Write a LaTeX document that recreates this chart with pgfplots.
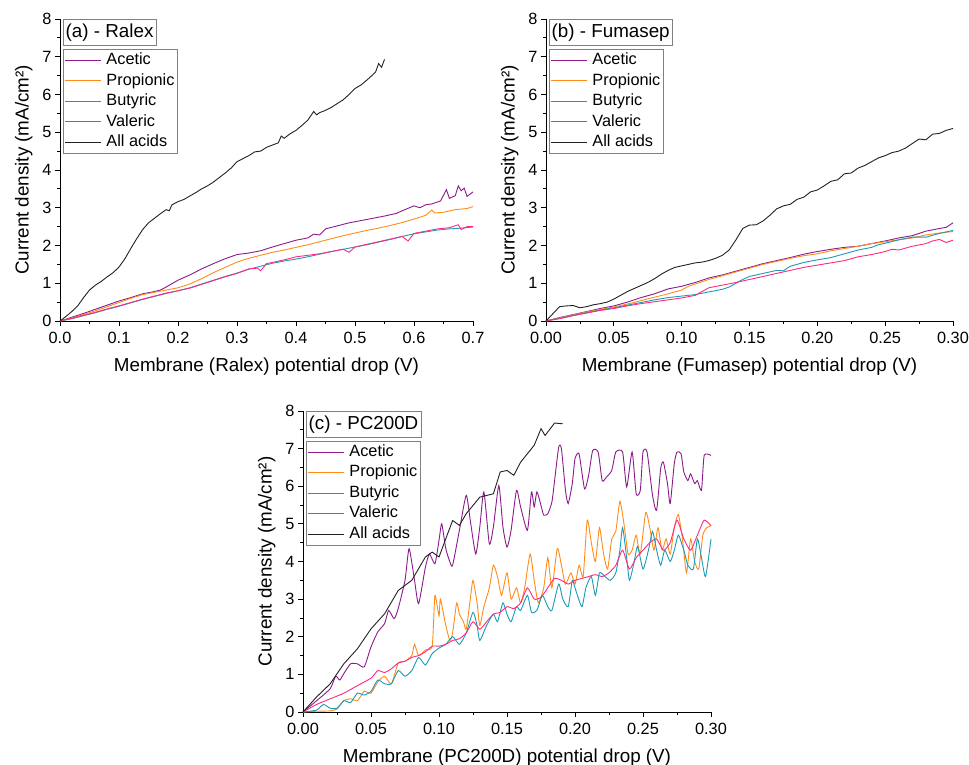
\documentclass[border=0pt]{standalone}
\usepackage{fontspec}
\setmainfont{Liberation Sans}
\usepackage{pgfplots}
\pgfplotsset{compat=1.18}
\definecolor{cAce}{HTML}{8B1A8B}
\definecolor{cPro}{HTML}{FF8C1A}
\definecolor{cBut}{HTML}{1A9BB5}
\definecolor{cVal}{HTML}{FF2A7F}
\definecolor{cAll}{HTML}{222222}
\newcommand{\fsT}{\fontsize{16.3}{19}\selectfont}
\newcommand{\fsL}{\fontsize{18.8}{22}\selectfont}
\tikzset{
  ttl/.style={draw=gray, line width=0.6pt, anchor=north west, font=\fontsize{18.8}{22}\selectfont,
    inner xsep=2.5pt, inner ysep=4.3pt, text height=13.5pt, text depth=4pt},
}
\pgfplotsset{
  panel/.style={
    scale only axis,
    axis x line*=bottom, axis y line*=left,
    axis line style={-, line width=0.8pt},
    tick align=outside,
    major tick length=5pt, minor tick length=3pt,
    every tick/.style={black, line width=0.8pt},
    minor x tick num=1, minor y tick num=1,
    ymin=0, ymax=8, ytick={0,1,2,3,4,5,6,7,8},
    /pgf/number format/assume math mode=true,
    ticklabel style={font=\fsT},
    xticklabel shift=3pt,
    label style={font=\fsL},
    xlabel shift=7pt, ylabel shift=3pt,
    ylabel={Current density (mA/cm²)},
    clip=false,
    legend cell align=left,
    legend style={draw=gray, line width=0.6pt, font=\fsT, anchor=north west,
      inner xsep=1pt, inner ysep=0.5pt, column sep=3pt,
      nodes={text height=12.5pt, text depth=4pt, inner sep=2pt}},
    legend image code/.code={\draw[#1, line width=1.3pt] (0pt,0pt) -- (36pt,0pt);},
    every axis plot/.append style={line width=0.9pt},
  },
  sm/.style={smooth, tension=0.35},
}
\begin{document}
\begin{tikzpicture}
\useasboundingbox (0,0) rectangle (969pt,765pt);
% ---------------- (a)
\begin{axis}[panel, at={(60pt,444pt)}, anchor=south west, width=413pt, height=302pt,
  xmin=0, xmax=0.7, xtick={0,0.1,0.2,0.3,0.4,0.5,0.6,0.7},
  xticklabel style={/pgf/number format/.cd, fixed, fixed zerofill, precision=1},
  xlabel={Membrane (Ralex) potential drop (V)},
  legend style={at={(axis description cs:0.007,0.90)}}]
\addplot[cAce] coordinates {(0,0) (0.02,0.10) (0.04,0.20) (0.06,0.31) (0.08,0.42) (0.10,0.53) (0.12,0.62) (0.14,0.72) (0.16,0.78) (0.17,0.82) (0.18,0.90) (0.20,1.08) (0.22,1.22) (0.24,1.38) (0.26,1.52) (0.28,1.65) (0.30,1.76) (0.32,1.80) (0.34,1.86) (0.36,1.96) (0.38,2.05) (0.40,2.14) (0.42,2.20) (0.43,2.30) (0.44,2.28) (0.45,2.44) (0.47,2.52) (0.49,2.60) (0.51,2.66) (0.53,2.72) (0.55,2.78) (0.57,2.85) (0.58,2.92) (0.60,3.05) (0.61,3.00) (0.62,3.08) (0.63,3.10) (0.645,3.18) (0.655,3.48) (0.66,3.25) (0.67,3.32) (0.675,3.58) (0.68,3.45) (0.685,3.52) (0.69,3.30) (0.70,3.42)};
\addlegendentry{Acetic}
\addplot[cPro] coordinates {(0,0) (0.02,0.08) (0.04,0.17) (0.06,0.27) (0.08,0.38) (0.10,0.49) (0.12,0.60) (0.14,0.70) (0.16,0.76) (0.18,0.82) (0.20,0.88) (0.22,0.98) (0.24,1.12) (0.26,1.28) (0.28,1.42) (0.30,1.56) (0.32,1.66) (0.34,1.74) (0.36,1.82) (0.38,1.88) (0.40,1.95) (0.42,2.02) (0.44,2.10) (0.46,2.18) (0.48,2.26) (0.50,2.33) (0.52,2.40) (0.54,2.46) (0.56,2.53) (0.58,2.61) (0.60,2.70) (0.62,2.80) (0.63,2.94) (0.635,2.86) (0.65,2.88) (0.67,2.95) (0.69,2.98) (0.70,3.03)};
\addlegendentry{Propionic}
\addplot[cBut] coordinates {(0,0) (0.02,0.06) (0.04,0.14) (0.06,0.22) (0.08,0.31) (0.10,0.39) (0.12,0.48) (0.14,0.57) (0.16,0.65) (0.18,0.73) (0.20,0.80) (0.22,0.88) (0.24,0.98) (0.26,1.08) (0.28,1.18) (0.30,1.27) (0.32,1.37) (0.34,1.45) (0.36,1.53) (0.38,1.59) (0.40,1.64) (0.42,1.70) (0.44,1.77) (0.46,1.84) (0.48,1.90) (0.50,1.96) (0.52,2.02) (0.54,2.09) (0.56,2.16) (0.58,2.24) (0.60,2.31) (0.62,2.36) (0.64,2.41) (0.66,2.44) (0.68,2.46) (0.70,2.49)};
\addlegendentry{Butyric}
\addplot[cVal] coordinates {(0,0) (0.02,0.07) (0.04,0.15) (0.06,0.23) (0.08,0.32) (0.10,0.40) (0.12,0.49) (0.14,0.58) (0.16,0.66) (0.18,0.74) (0.20,0.80) (0.22,0.87) (0.24,0.97) (0.26,1.07) (0.28,1.17) (0.30,1.26) (0.32,1.38) (0.335,1.40) (0.34,1.33) (0.35,1.52) (0.36,1.55) (0.38,1.62) (0.40,1.70) (0.42,1.74) (0.44,1.78) (0.46,1.84) (0.48,1.90) (0.49,1.82) (0.50,1.96) (0.52,2.03) (0.54,2.10) (0.56,2.17) (0.58,2.24) (0.59,2.12) (0.60,2.32) (0.62,2.38) (0.64,2.44) (0.66,2.47) (0.675,2.55) (0.68,2.42) (0.69,2.50) (0.70,2.50)};
\addlegendentry{Valeric}
\addplot[cAll] coordinates {(0,0) (0.01,0.12) (0.02,0.25) (0.03,0.40) (0.04,0.62) (0.05,0.82) (0.06,0.95) (0.07,1.05) (0.08,1.17) (0.09,1.28) (0.10,1.43) (0.11,1.65) (0.12,1.92) (0.13,2.18) (0.14,2.42) (0.15,2.60) (0.16,2.72) (0.17,2.84) (0.18,2.95) (0.185,2.92) (0.19,3.08) (0.20,3.16) (0.21,3.22) (0.22,3.31) (0.23,3.40) (0.24,3.50) (0.25,3.58) (0.26,3.68) (0.27,3.80) (0.28,3.92) (0.29,4.05) (0.30,4.22) (0.31,4.30) (0.32,4.38) (0.33,4.48) (0.34,4.50) (0.35,4.60) (0.36,4.66) (0.37,4.72) (0.375,4.90) (0.38,4.84) (0.39,4.96) (0.40,5.05) (0.41,5.18) (0.42,5.32) (0.43,5.55) (0.435,5.46) (0.44,5.52) (0.45,5.58) (0.46,5.66) (0.47,5.76) (0.48,5.86) (0.49,6.00) (0.50,6.16) (0.51,6.25) (0.52,6.38) (0.53,6.52) (0.535,6.60) (0.54,6.82) (0.545,6.72) (0.55,6.93)};
\addlegendentry{All acids}
\node[ttl] at (axis description cs:0.007,1.0) {(a) - Ralex};
\end{axis}
% ---------------- (b)
\begin{axis}[panel, at={(546pt,444pt)}, anchor=south west, width=407pt, height=302pt,
  xmin=0, xmax=0.3, xtick={0,0.05,0.1,0.15,0.2,0.25,0.3},
  xticklabel style={/pgf/number format/.cd, fixed, fixed zerofill, precision=2},
  xlabel={Membrane (Fumasep) potential drop (V)},
  legend style={at={(axis description cs:0.007,0.90)}}]
\addplot[cAce] coordinates {(0,0) (0.01,0.09) (0.02,0.17) (0.03,0.25) (0.04,0.33) (0.05,0.40) (0.06,0.50) (0.07,0.62) (0.08,0.72) (0.09,0.85) (0.10,0.92) (0.11,1.02) (0.12,1.14) (0.13,1.22) (0.14,1.32) (0.15,1.42) (0.16,1.52) (0.17,1.60) (0.18,1.68) (0.19,1.77) (0.20,1.84) (0.21,1.90) (0.22,1.95) (0.23,1.98) (0.24,2.05) (0.25,2.12) (0.26,2.20) (0.27,2.26) (0.28,2.38) (0.29,2.45) (0.295,2.48) (0.30,2.60)};
\addlegendentry{Acetic}
\addplot[cPro] coordinates {(0,0) (0.01,0.08) (0.02,0.16) (0.03,0.24) (0.04,0.31) (0.05,0.37) (0.06,0.45) (0.07,0.54) (0.08,0.63) (0.09,0.72) (0.10,0.82) (0.105,0.92) (0.11,0.98) (0.12,1.10) (0.13,1.20) (0.14,1.30) (0.15,1.40) (0.16,1.50) (0.17,1.58) (0.18,1.66) (0.19,1.73) (0.20,1.78) (0.21,1.86) (0.22,1.92) (0.23,1.98) (0.24,2.05) (0.25,2.10) (0.26,2.15) (0.27,2.20) (0.28,2.28) (0.29,2.33) (0.30,2.37)};
\addlegendentry{Propionic}
\addplot[cBut] coordinates {(0,0) (0.01,0.07) (0.02,0.15) (0.03,0.22) (0.04,0.29) (0.05,0.35) (0.06,0.42) (0.07,0.49) (0.08,0.56) (0.09,0.62) (0.10,0.66) (0.11,0.70) (0.12,0.77) (0.13,0.84) (0.135,0.90) (0.14,1.00) (0.145,1.10) (0.15,1.18) (0.16,1.26) (0.17,1.34) (0.175,1.33) (0.18,1.45) (0.19,1.55) (0.20,1.62) (0.21,1.68) (0.22,1.78) (0.23,1.88) (0.24,1.95) (0.245,2.02) (0.25,2.06) (0.26,2.15) (0.27,2.22) (0.28,2.22) (0.29,2.32) (0.30,2.40)};
\addlegendentry{Butyric}
\addplot[cVal] coordinates {(0,0) (0.01,0.06) (0.02,0.14) (0.03,0.21) (0.04,0.28) (0.05,0.33) (0.06,0.40) (0.07,0.46) (0.08,0.51) (0.09,0.56) (0.10,0.61) (0.11,0.68) (0.115,0.78) (0.12,0.88) (0.13,0.95) (0.14,1.02) (0.15,1.10) (0.16,1.18) (0.17,1.26) (0.18,1.34) (0.19,1.42) (0.20,1.48) (0.21,1.54) (0.22,1.60) (0.23,1.70) (0.24,1.76) (0.25,1.84) (0.255,1.90) (0.26,1.88) (0.27,1.98) (0.28,2.05) (0.285,2.12) (0.29,2.16) (0.295,2.08) (0.30,2.14)};
\addlegendentry{Valeric}
\addplot[cAll] coordinates {(0,0) (0.005,0.19) (0.01,0.38) (0.015,0.40) (0.02,0.41) (0.025,0.35) (0.03,0.38) (0.035,0.43) (0.04,0.46) (0.045,0.50) (0.05,0.58) (0.055,0.68) (0.06,0.78) (0.065,0.86) (0.07,0.94) (0.075,1.02) (0.08,1.12) (0.085,1.24) (0.09,1.34) (0.095,1.42) (0.10,1.46) (0.105,1.50) (0.11,1.54) (0.115,1.56) (0.12,1.60) (0.125,1.66) (0.13,1.74) (0.135,1.88) (0.14,2.15) (0.145,2.45) (0.15,2.54) (0.155,2.55) (0.16,2.65) (0.165,2.80) (0.17,2.97) (0.175,3.05) (0.18,3.09) (0.185,3.22) (0.19,3.28) (0.195,3.42) (0.20,3.47) (0.205,3.58) (0.21,3.70) (0.215,3.74) (0.22,3.90) (0.225,3.92) (0.23,4.05) (0.235,4.12) (0.24,4.22) (0.245,4.32) (0.25,4.38) (0.255,4.46) (0.26,4.50) (0.265,4.58) (0.27,4.70) (0.275,4.82) (0.28,4.80) (0.285,4.95) (0.29,4.97) (0.295,5.05) (0.30,5.10)};
\addlegendentry{All acids}
\node[ttl] at (axis description cs:0.007,1.0) {(b) - Fumasep};
\end{axis}
% ---------------- (c)
\begin{axis}[panel, at={(303pt,53pt)}, anchor=south west, width=408pt, height=301pt,
  xmin=0, xmax=0.3, xtick={0,0.05,0.1,0.15,0.2,0.25,0.3},
  xticklabel style={/pgf/number format/.cd, fixed, fixed zerofill, precision=2},
  xlabel={Membrane (PC200D) potential drop (V)},
  legend style={at={(axis description cs:0.007,0.90)}}]
\addplot[cAce, sm] coordinates {(0,0) (0.01,0.30) (0.02,0.62) (0.024,0.95) (0.027,0.85) (0.03,1.02) (0.035,1.28) (0.04,1.28) (0.045,1.20) (0.05,1.73) (0.055,2.13) (0.06,2.35) (0.063,2.70) (0.067,2.48) (0.07,2.75) (0.075,3.50) (0.078,4.34) (0.082,3.50) (0.085,2.88) (0.09,3.85) (0.093,4.20) (0.097,3.94) (0.10,4.56) (0.102,5.00) (0.105,4.34) (0.108,3.99) (0.11,3.90) (0.115,4.83) (0.12,5.76) (0.123,5.09) (0.127,4.20) (0.13,4.92) (0.133,5.85) (0.137,4.47) (0.14,4.92) (0.144,6.02) (0.147,4.92) (0.15,4.38) (0.153,4.83) (0.157,5.89) (0.16,5.45) (0.165,4.83) (0.168,5.85) (0.17,5.45) (0.172,5.85) (0.175,5.49) (0.177,5.23) (0.18,5.27) (0.183,5.58) (0.185,6.15) (0.188,7.04) (0.19,7.00) (0.193,5.89) (0.195,5.54) (0.198,6.07) (0.20,6.73) (0.203,6.86) (0.207,5.93) (0.21,6.29) (0.213,6.95) (0.217,6.91) (0.22,6.15) (0.223,6.24) (0.227,6.42) (0.23,6.91) (0.235,6.91) (0.238,5.98) (0.242,6.91) (0.245,5.80) (0.248,5.89) (0.25,6.91) (0.253,6.91) (0.257,5.76) (0.26,5.36) (0.263,6.47) (0.265,6.64) (0.268,6.07) (0.27,5.54) (0.273,6.60) (0.275,6.91) (0.278,6.86) (0.28,6.38) (0.283,6.15) (0.285,6.33) (0.288,6.07) (0.29,6.15) (0.293,5.89) (0.295,6.82) (0.30,6.82)};
\addlegendentry{Acetic}
\addplot[cPro, sm] coordinates {(0,0) (0.01,0.02) (0.02,0.03) (0.025,0.08) (0.03,0.30) (0.035,0.35) (0.04,0.30) (0.045,0.55) (0.05,0.50) (0.055,0.80) (0.06,0.95) (0.065,0.75) (0.07,1.30) (0.075,1.35) (0.08,1.50) (0.082,1.80) (0.085,1.50) (0.09,1.65) (0.095,1.75) (0.097,3.10) (0.10,2.55) (0.101,3.00) (0.105,2.30) (0.108,1.90) (0.11,2.10) (0.113,2.90) (0.115,2.60) (0.118,2.40) (0.12,2.20) (0.123,3.00) (0.125,3.50) (0.128,2.90) (0.13,2.30) (0.133,2.80) (0.137,3.30) (0.14,3.90) (0.143,3.60) (0.146,3.10) (0.15,3.70) (0.153,3.00) (0.157,3.30) (0.16,2.90) (0.163,3.30) (0.167,4.20) (0.17,3.50) (0.173,2.90) (0.177,3.30) (0.18,4.10) (0.183,3.30) (0.187,4.35) (0.19,3.90) (0.193,3.40) (0.197,3.70) (0.20,3.40) (0.203,3.90) (0.206,3.60) (0.209,5.10) (0.212,4.50) (0.215,4.00) (0.218,4.90) (0.221,4.20) (0.224,3.80) (0.227,4.60) (0.23,4.80) (0.233,5.60) (0.236,5.00) (0.239,4.20) (0.242,4.30) (0.245,4.70) (0.248,4.20) (0.252,5.30) (0.255,4.90) (0.258,4.30) (0.261,4.90) (0.264,4.30) (0.267,4.60) (0.27,4.20) (0.273,4.90) (0.276,5.25) (0.279,4.60) (0.282,3.70) (0.285,4.60) (0.288,4.00) (0.291,3.80) (0.294,4.70) (0.297,4.90) (0.30,4.95)};
\addlegendentry{Propionic}
\addplot[cBut, sm] coordinates {(0,0) (0.01,0.05) (0.015,0.20) (0.02,0.10) (0.025,0.10) (0.03,0.30) (0.035,0.25) (0.04,0.50) (0.045,0.45) (0.05,0.55) (0.055,0.85) (0.06,0.75) (0.065,0.75) (0.07,1.10) (0.075,0.95) (0.08,1.10) (0.085,1.45) (0.09,1.25) (0.095,1.55) (0.10,1.70) (0.105,1.80) (0.11,2.00) (0.115,1.80) (0.12,2.10) (0.125,2.65) (0.128,2.30) (0.13,1.90) (0.135,2.30) (0.14,2.60) (0.143,2.40) (0.147,2.90) (0.15,2.60) (0.153,2.40) (0.157,2.80) (0.16,2.70) (0.165,3.10) (0.168,2.65) (0.172,2.70) (0.176,3.10) (0.18,2.80) (0.183,2.70) (0.188,3.40) (0.191,3.00) (0.195,2.80) (0.198,3.50) (0.20,3.30) (0.205,2.80) (0.208,3.30) (0.212,3.60) (0.215,3.10) (0.218,3.70) (0.222,3.60) (0.226,3.50) (0.23,3.70) (0.233,4.30) (0.235,4.90) (0.238,4.10) (0.24,3.50) (0.243,3.90) (0.246,4.40) (0.25,3.80) (0.254,4.30) (0.257,4.80) (0.26,4.30) (0.263,3.90) (0.266,4.30) (0.27,4.00) (0.273,4.30) (0.276,4.70) (0.28,4.30) (0.283,3.90) (0.287,3.80) (0.29,4.60) (0.293,4.10) (0.296,3.60) (0.30,4.60)};
\addlegendentry{Butyric}
\addplot[cVal, sm] coordinates {(0,0) (0.01,0.20) (0.02,0.35) (0.03,0.50) (0.04,0.70) (0.05,0.90) (0.055,1.10) (0.06,1.05) (0.065,1.15) (0.07,1.30) (0.075,1.35) (0.08,1.45) (0.085,1.50) (0.09,1.60) (0.095,1.75) (0.10,1.75) (0.105,1.80) (0.11,1.90) (0.115,1.95) (0.12,2.10) (0.125,2.40) (0.13,2.20) (0.135,2.40) (0.14,2.60) (0.145,2.65) (0.15,2.80) (0.155,2.75) (0.16,2.90) (0.165,3.30) (0.17,3.00) (0.175,3.05) (0.18,3.30) (0.185,3.55) (0.19,3.50) (0.195,3.40) (0.20,3.50) (0.205,3.55) (0.21,3.60) (0.215,3.65) (0.22,3.60) (0.225,3.70) (0.23,3.90) (0.235,4.30) (0.24,3.80) (0.245,4.10) (0.25,4.30) (0.255,4.50) (0.26,4.60) (0.265,4.30) (0.27,4.50) (0.275,5.10) (0.28,4.60) (0.285,4.30) (0.29,4.70) (0.295,5.10) (0.30,4.95)};
\addlegendentry{Valeric}
\addplot[cAll] coordinates {(0,0) (0.01,0.40) (0.02,0.75) (0.03,1.28) (0.04,1.68) (0.05,2.21) (0.06,2.61) (0.07,3.23) (0.08,3.50) (0.09,4.12) (0.095,4.25) (0.10,4.12) (0.11,5.09) (0.115,4.96) (0.12,5.27) (0.13,5.71) (0.14,5.80) (0.145,6.38) (0.15,6.42) (0.155,6.29) (0.16,6.64) (0.17,7.09) (0.175,7.53) (0.178,7.35) (0.185,7.68) (0.191,7.66)};
\addlegendentry{All acids}
\node[ttl] at (axis description cs:0.007,1.0) {(c) - PC200D};
\end{axis}
\end{tikzpicture}
\end{document}
